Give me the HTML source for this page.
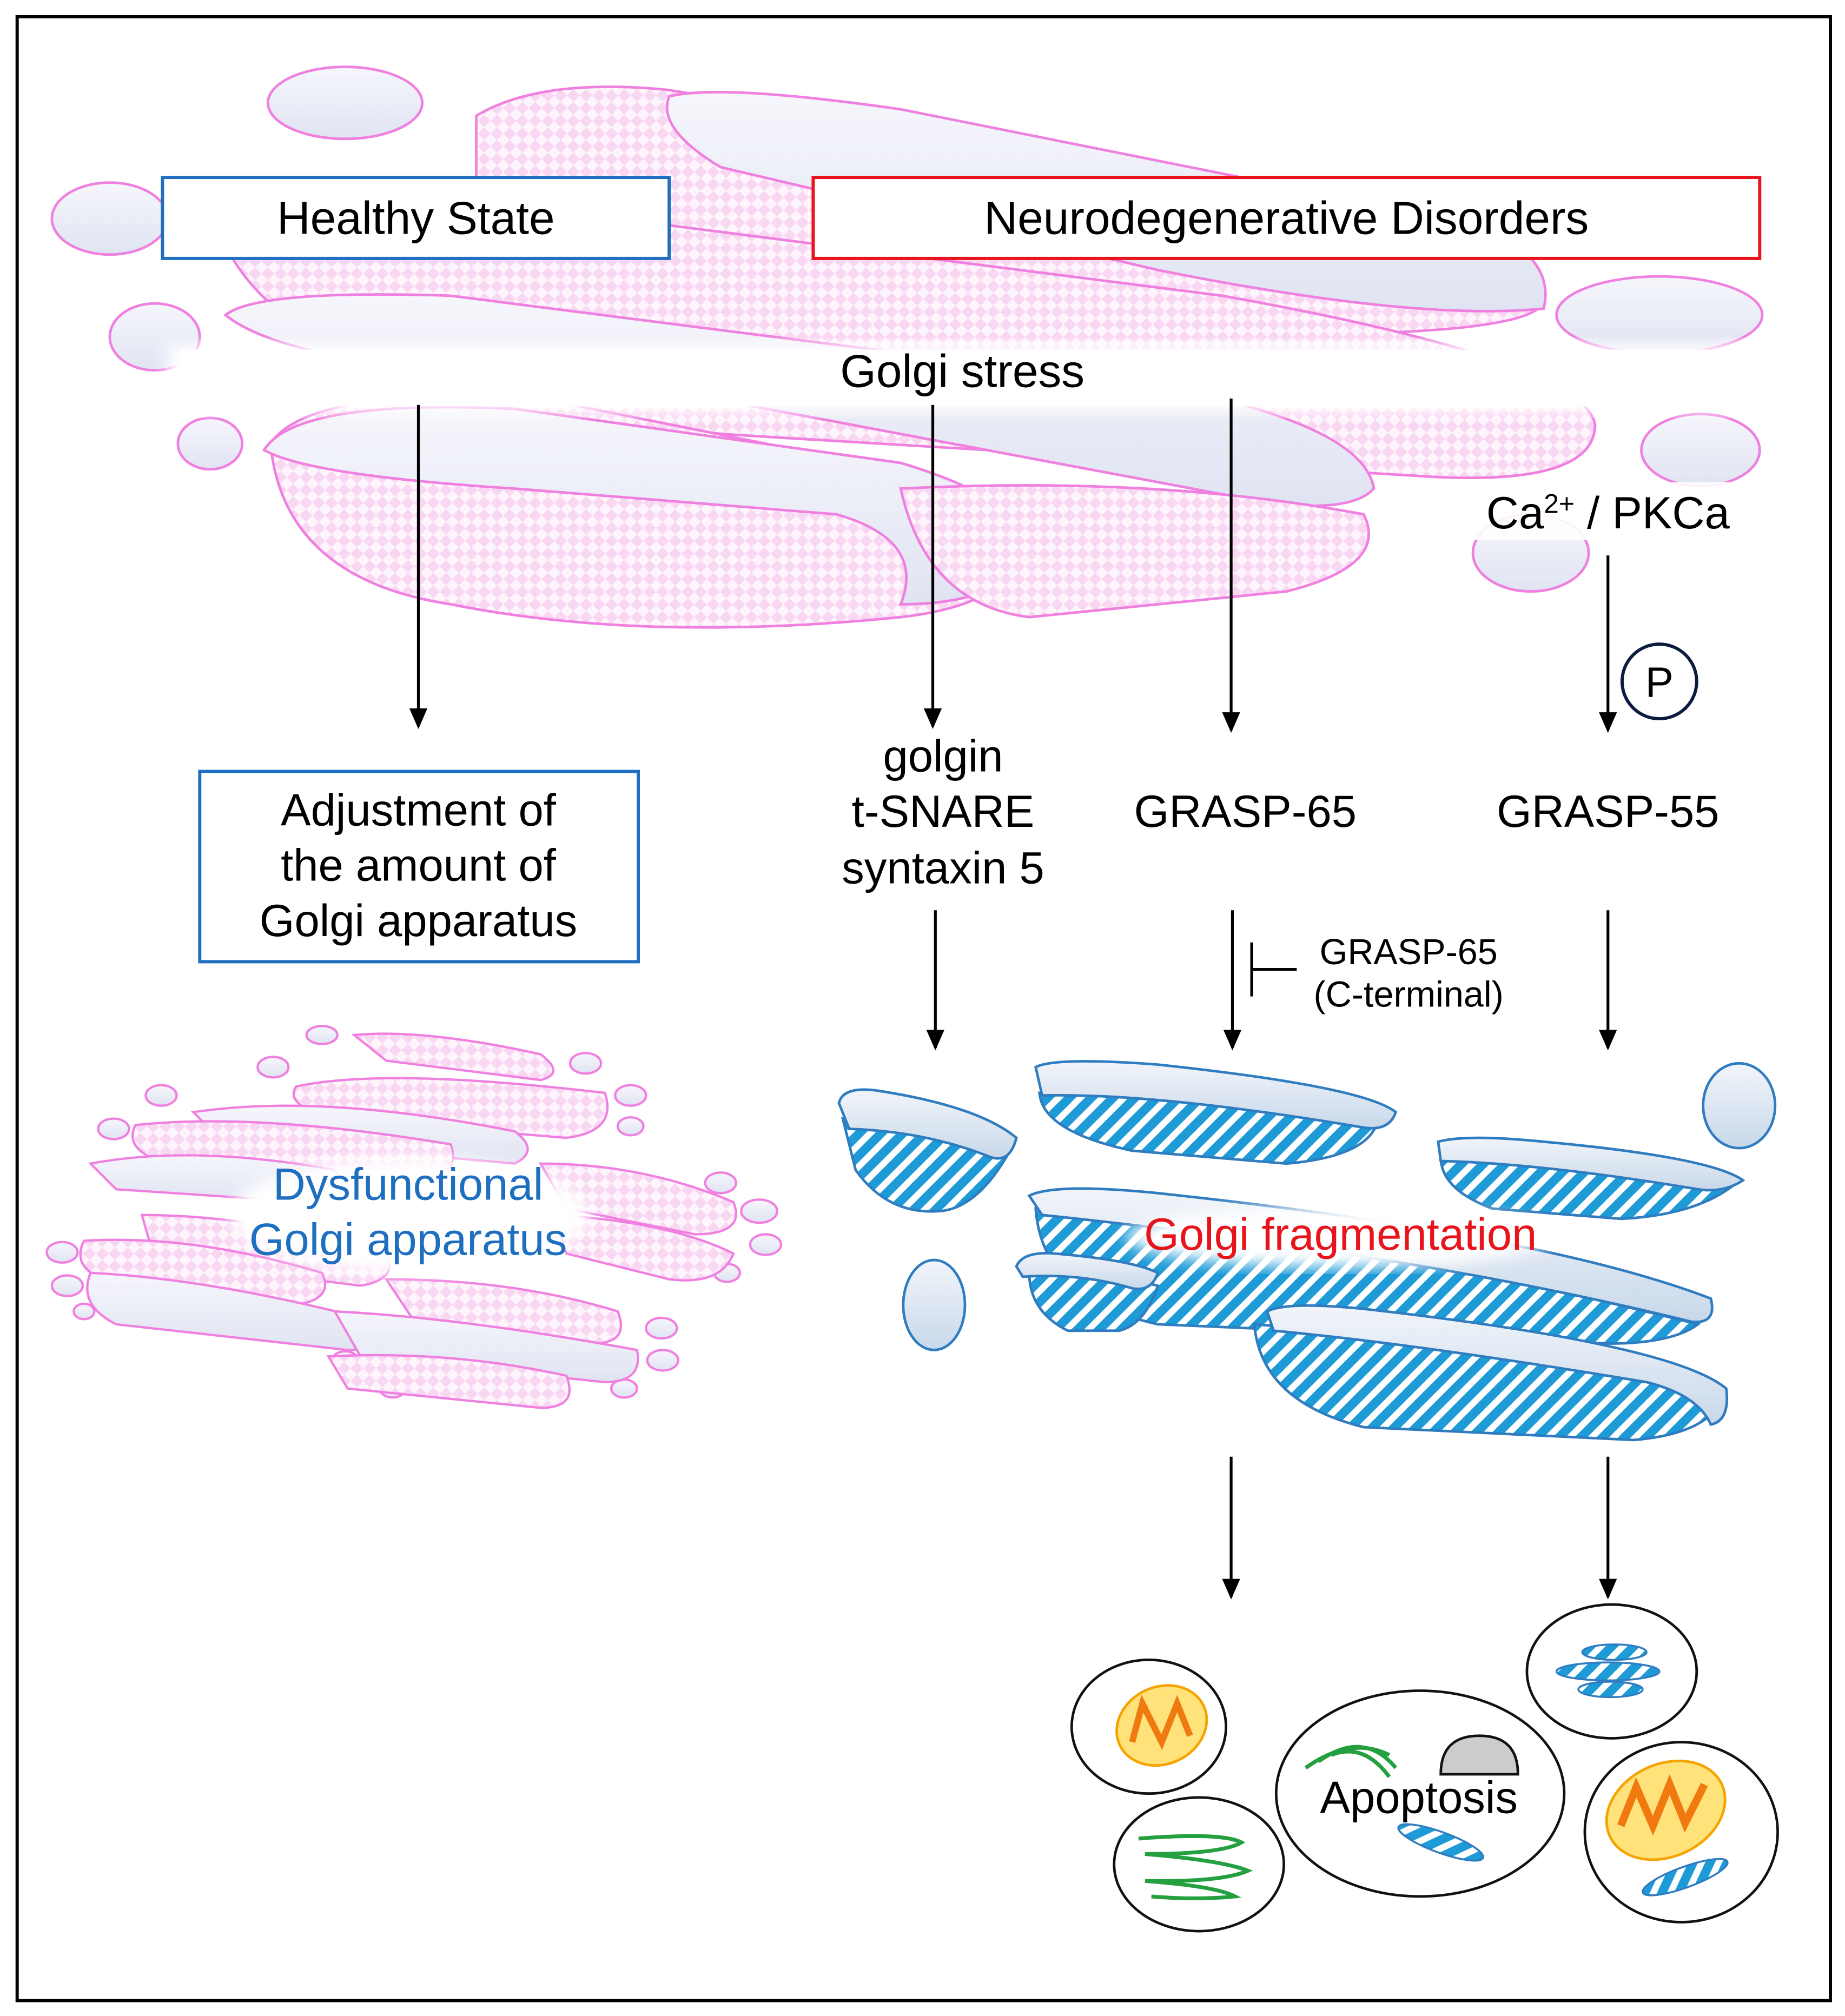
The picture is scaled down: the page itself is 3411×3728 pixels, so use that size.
<!DOCTYPE html>
<html><head><meta charset="utf-8"><style>
html,body{margin:0;padding:0;background:#fff}
svg{display:block}
text{font-family:"Liberation Sans",Arial,sans-serif}
</style></head><body>
<svg width="3411" height="3728" viewBox="0 0 1434 1568" xmlns="http://www.w3.org/2000/svg">
<defs>
<pattern id="chk" width="14" height="14" patternUnits="userSpaceOnUse" patternTransform="rotate(45)">
<rect width="14" height="14" fill="#fef5fc"/><rect width="7" height="7" fill="#f9d6f2"/><rect x="7" y="7" width="7" height="7" fill="#f9d6f2"/>
</pattern>
<pattern id="str" width="12" height="12" patternUnits="userSpaceOnUse" patternTransform="rotate(45)">
<rect width="12" height="12" fill="#fff"/><rect width="7" height="12" fill="#1e9bd7"/>
</pattern>
<linearGradient id="lid" x1="0" y1="0" x2="0" y2="1"><stop offset="0" stop-color="#f6f6fc"/><stop offset="1" stop-color="#e0e4f2"/></linearGradient>
<linearGradient id="blid" x1="0" y1="0" x2="0" y2="1"><stop offset="0" stop-color="#f2f5fa"/><stop offset="1" stop-color="#c8d8ea"/></linearGradient>
<marker id="ah" markerWidth="16" markerHeight="14" refX="14" refY="7" orient="auto" markerUnits="userSpaceOnUse" viewBox="0 0 16 14">
<path d="M0,0 L16,7 L0,14 z" fill="#000"/></marker>
<filter id="blur"><feGaussianBlur stdDeviation="6"/></filter>
</defs>
<rect x="13" y="13" width="1410" height="1543" fill="#fff" stroke="#000" stroke-width="2.5"/>

<g stroke="#f080e0" stroke-width="2">
<ellipse cx="268" cy="80" rx="60" ry="28" fill="url(#lid)"/>
<ellipse cx="85" cy="170" rx="45" ry="28" fill="url(#lid)"/>
<ellipse cx="120" cy="262" rx="35" ry="26" fill="url(#lid)"/>
<ellipse cx="163" cy="345" rx="25" ry="20" fill="url(#lid)"/>
<ellipse cx="1290" cy="245" rx="80" ry="30" fill="url(#lid)"/>
<ellipse cx="1322" cy="350" rx="46" ry="28" fill="url(#lid)"/>
<ellipse cx="1190" cy="430" rx="45" ry="30" fill="url(#lid)"/>
<path d="M370,90 Q420,60 520,70 L1000,150 Q1200,190 1200,235 Q1190,260 1000,260 L500,230 Q380,200 370,150 Z" fill="url(#chk)"/>
<path d="M520,75 Q560,65 700,85 L1150,175 Q1210,200 1200,240 Q1100,250 900,210 L560,130 Q510,100 520,75 Z" fill="url(#lid)"/>
<path d="M180,200 Q200,150 400,160 L950,230 Q1230,280 1240,330 Q1240,380 1100,370 L600,340 Q250,320 180,200 Z" fill="url(#chk)"/>
<path d="M175,245 Q200,225 350,230 L900,300 Q1060,330 1068,380 Q1050,400 980,390 L500,300 Q230,290 175,245 Z" fill="url(#lid)"/>
<path d="M210,345 Q240,300 420,310 L720,370 Q800,400 800,420 Q790,470 700,480 Q500,500 350,470 Q220,450 210,345 Z" fill="url(#chk)"/>
<path d="M205,350 Q230,310 400,318 L700,360 Q800,390 800,430 Q780,470 700,470 Q720,420 650,400 L400,380 Q240,370 205,350 Z" fill="url(#lid)"/>
<path d="M700,380 Q900,370 1060,400 Q1080,440 1000,460 L800,480 Q720,470 700,380 Z" fill="url(#chk)"/>
</g>
<rect x="130" y="268" width="1250" height="52" fill="#fff" filter="url(#blur)"/>
<rect x="140" y="272" width="1230" height="44" fill="#fff"/>

<rect x="126" y="138" width="394" height="63" fill="#fff" stroke="#1f6fc0" stroke-width="2.5"/>
<text x="323" y="182" font-size="36" text-anchor="middle">Healthy State</text>
<rect x="632" y="138" width="736" height="63" fill="#fff" stroke="#e8141c" stroke-width="2.5"/>
<text x="1000" y="182" font-size="36" text-anchor="middle">Neurodegenerative Disorders</text>

<text x="748" y="301" font-size="36" text-anchor="middle">Golgi stress</text>
<rect x="1145" y="375" width="210" height="45" fill="#fff" opacity="0.9"/>
<text x="1250" y="411" font-size="35" text-anchor="middle">Ca<tspan font-size="21" dy="-12">2+</tspan><tspan dy="12"> / PKCa</tspan></text>

<g stroke="#000" stroke-width="2.2" fill="none">
<line x1="325" y1="315" x2="325" y2="565" marker-end="url(#ah)"/>
<line x1="725" y1="315" x2="725" y2="565" marker-end="url(#ah)"/>
<line x1="957" y1="310" x2="957" y2="568" marker-end="url(#ah)"/>
<line x1="1250" y1="432" x2="1250" y2="568" marker-end="url(#ah)"/>
<line x1="727" y1="708" x2="727" y2="815" marker-end="url(#ah)"/>
<line x1="958" y1="708" x2="958" y2="815" marker-end="url(#ah)"/>
<line x1="1250" y1="708" x2="1250" y2="815" marker-end="url(#ah)"/>
<line x1="973" y1="733" x2="973" y2="775"/>
<line x1="973" y1="754" x2="1008" y2="754"/>
<line x1="957" y1="1133" x2="957" y2="1242" marker-end="url(#ah)"/>
<line x1="1250" y1="1133" x2="1250" y2="1242" marker-end="url(#ah)"/>
</g>
<circle cx="1290" cy="530" r="29" fill="#fff" stroke="#0d1b40" stroke-width="2.5"/>
<text x="1290" y="542" font-size="33" text-anchor="middle">P</text>

<g font-size="35" text-anchor="middle">
<text x="733" y="600">golgin</text>
<text x="733" y="643">t-SNARE</text>
<text x="733" y="687">syntaxin 5</text>
<text x="968" y="643">GRASP-65</text>
<text x="1250" y="643">GRASP-55</text>
</g>
<text x="1095" y="750" font-size="28" text-anchor="middle">GRASP-65</text>
<text x="1095" y="783" font-size="28" text-anchor="middle">(C-terminal)</text>

<rect x="155" y="600" width="341" height="148" fill="#fff" stroke="#1f6fc0" stroke-width="2.5"/>
<g font-size="35" text-anchor="middle"><text x="325" y="642">Adjustment of</text><text x="325" y="685">the amount of</text><text x="325" y="728">Golgi apparatus</text></g>

<g stroke="#f080e0" stroke-width="1.8">
<g fill="url(#lid)">
<ellipse cx="250" cy="805" rx="12" ry="7"/><ellipse cx="212" cy="830" rx="12" ry="8"/><ellipse cx="455" cy="827" rx="12" ry="8"/>
<ellipse cx="125" cy="852" rx="12" ry="8"/><ellipse cx="490" cy="852" rx="12" ry="8"/><ellipse cx="88" cy="878" rx="12" ry="8"/>
<ellipse cx="490" cy="876" rx="10" ry="7"/><ellipse cx="560" cy="920" rx="12" ry="8"/><ellipse cx="590" cy="942" rx="14" ry="9"/>
<ellipse cx="595" cy="968" rx="12" ry="8"/><ellipse cx="48" cy="974" rx="12" ry="8"/><ellipse cx="52" cy="1000" rx="12" ry="8"/>
<ellipse cx="565" cy="990" rx="10" ry="7"/><ellipse cx="65" cy="1020" rx="8" ry="6"/><ellipse cx="514" cy="1033" rx="12" ry="8"/>
<ellipse cx="515" cy="1058" rx="12" ry="8"/><ellipse cx="268" cy="1058" rx="10" ry="7"/><ellipse cx="485" cy="1080" rx="10" ry="7"/>
<ellipse cx="305" cy="1080" rx="10" ry="7"/>
</g>
<path d="M275,805 Q330,800 420,820 Q440,835 420,840 L300,825 Z" fill="url(#chk)"/>
<path d="M230,845 Q300,830 470,850 Q480,880 440,885 L260,870 Q220,860 230,845 Z" fill="url(#chk)"/>
<path d="M150,865 Q250,850 400,880 Q420,895 400,905 L170,885 Z" fill="url(#lid)"/>
<path d="M105,875 Q200,865 350,890 Q360,915 320,920 L130,905 Q95,895 105,875 Z" fill="url(#chk)"/>
<path d="M70,905 Q150,890 260,910 Q270,935 240,935 L90,925 Z" fill="url(#lid)"/>
<path d="M420,905 Q500,905 570,935 Q580,960 540,960 L440,940 Z" fill="url(#chk)"/>
<path d="M430,945 Q520,950 570,975 Q560,1000 520,995 L440,975 Z" fill="url(#chk)"/>
<path d="M110,945 Q200,945 300,975 Q310,995 280,1000 L120,980 Z" fill="url(#chk)"/>
<path d="M65,965 Q150,960 250,990 Q260,1010 230,1015 L80,995 Q55,985 65,965 Z" fill="url(#chk)"/>
<path d="M70,990 Q170,995 300,1030 Q300,1050 270,1050 L90,1030 Q60,1015 70,990 Z" fill="url(#lid)"/>
<path d="M300,995 Q400,995 480,1020 Q490,1045 460,1045 L320,1025 Z" fill="url(#chk)"/>
<path d="M260,1020 Q360,1025 495,1050 Q500,1075 470,1075 L280,1055 Z" fill="url(#lid)"/>
<path d="M255,1055 Q350,1050 440,1070 Q450,1095 420,1095 L270,1080 Z" fill="url(#chk)"/>
</g>
<ellipse cx="318" cy="945" rx="140" ry="45" fill="#fff" filter="url(#blur)"/>
<g font-size="35" fill="#1f6fc0" text-anchor="middle"><text x="317" y="933">Dysfunctional</text><text x="317" y="976">Golgi apparatus</text></g>

<g stroke="#2f7cc0" stroke-width="2">
<path d="M655,870 Q720,870 785,895 Q760,940 730,942 Q690,945 665,910 Z" fill="url(#str)"/>
<path d="M652,858 Q655,845 680,848 Q760,860 790,885 Q785,905 770,900 Q720,880 660,878 Z" fill="url(#blid)"/>
<path d="M808,850 Q900,850 1070,875 Q1060,900 1000,905 L880,895 Q810,880 808,850 Z" fill="url(#str)"/>
<path d="M805,830 Q820,822 900,828 Q1060,845 1085,865 Q1080,880 1060,877 Q900,850 810,852 Z" fill="url(#blid)"/>
<path d="M1120,900 Q1200,900 1350,920 Q1320,945 1260,948 L1160,940 Q1120,925 1120,900 Z" fill="url(#str)"/>
<path d="M1118,888 Q1140,882 1200,888 Q1330,900 1355,918 Q1340,928 1320,925 Q1200,905 1120,903 Z" fill="url(#blid)"/>
<ellipse cx="1352" cy="860" rx="28" ry="33" fill="url(#blid)"/>
<ellipse cx="726" cy="1015" rx="24" ry="35" fill="url(#blid)"/>
<path d="M805,940 Q1000,950 1320,1030 Q1300,1045 1250,1045 L900,1030 Q810,1010 805,940 Z" fill="url(#str)"/>
<path d="M800,930 Q820,920 900,928 Q1200,960 1330,1010 Q1335,1030 1315,1028 Q1100,975 810,945 Z" fill="url(#blid)"/>
<path d="M800,990 Q860,990 900,1000 Q890,1030 870,1035 L830,1035 Q800,1020 800,990 Z" fill="url(#str)"/>
<path d="M790,985 Q795,973 820,975 Q880,980 900,990 Q895,1005 880,1002 Q840,990 795,993 Z" fill="url(#blid)"/>
<path d="M975,1030 Q1100,1040 1340,1085 Q1330,1115 1270,1120 L1060,1110 Q980,1090 975,1030 Z" fill="url(#str)"/>
<path d="M985,1020 Q1000,1012 1060,1018 Q1300,1045 1342,1080 Q1345,1105 1330,1108 Q1320,1085 1280,1075 Q1100,1045 990,1035 Z" fill="url(#blid)"/>
</g>
<ellipse cx="1040" cy="962" rx="165" ry="24" fill="#fff" filter="url(#blur)"/>
<text x="1042" y="972" font-size="35" fill="#e8141c" text-anchor="middle">Golgi fragmentation</text>

<g stroke="#111" stroke-width="2" fill="#fff">
<ellipse cx="893" cy="1343" rx="60" ry="52"/>
<ellipse cx="932" cy="1450" rx="66" ry="52"/>
<ellipse cx="1104" cy="1395" rx="112" ry="80"/>
<ellipse cx="1253" cy="1300" rx="66" ry="52"/>
<ellipse cx="1307" cy="1425" rx="75" ry="70"/>
</g>
<ellipse cx="903" cy="1342" rx="36" ry="30" fill="#ffe27a" stroke="#f5a300" stroke-width="2" transform="rotate(-25 903 1342)"/>
<path d="M880,1355 L888,1325 L903,1355 L915,1325 L925,1350" fill="none" stroke="#f07a10" stroke-width="5"/>
<ellipse cx="1295" cy="1408" rx="48" ry="36" fill="#ffe27a" stroke="#f5a300" stroke-width="2" transform="rotate(-25 1295 1408)"/>
<path d="M1260,1420 L1272,1390 L1285,1420 L1298,1388 L1310,1418 L1325,1388" fill="none" stroke="#f07a10" stroke-width="6"/>
<path d="M885,1430 Q950,1425 965,1433 Q950,1442 890,1442 Q950,1447 970,1455 Q950,1464 890,1463 Q945,1467 960,1475 Q930,1478 895,1475" fill="none" stroke="#25a040" stroke-width="3"/>
<path d="M1015,1375 Q1050,1350 1080,1365 M1025,1370 Q1060,1345 1085,1375 M1035,1365 Q1060,1355 1080,1382" fill="none" stroke="#25a040" stroke-width="3"/>
<path d="M1120,1380 Q1120,1350 1150,1350 Q1180,1350 1180,1380 Z" fill="#ccc" stroke="#111" stroke-width="2"/>
<g stroke="#2f7cc0" stroke-width="1.5" fill="url(#str)">
<ellipse cx="1250" cy="1300" rx="40" ry="7"/><ellipse cx="1255" cy="1285" rx="25" ry="6"/><ellipse cx="1252" cy="1314" rx="25" ry="6"/>
<ellipse cx="1310" cy="1460" rx="35" ry="8" transform="rotate(-20 1310 1460)"/>
<ellipse cx="1120" cy="1433" rx="35" ry="8" transform="rotate(20 1120 1433)"/>
</g>
<text x="1103" y="1410" font-size="35" text-anchor="middle">Apoptosis</text>
</svg>
</body></html>
